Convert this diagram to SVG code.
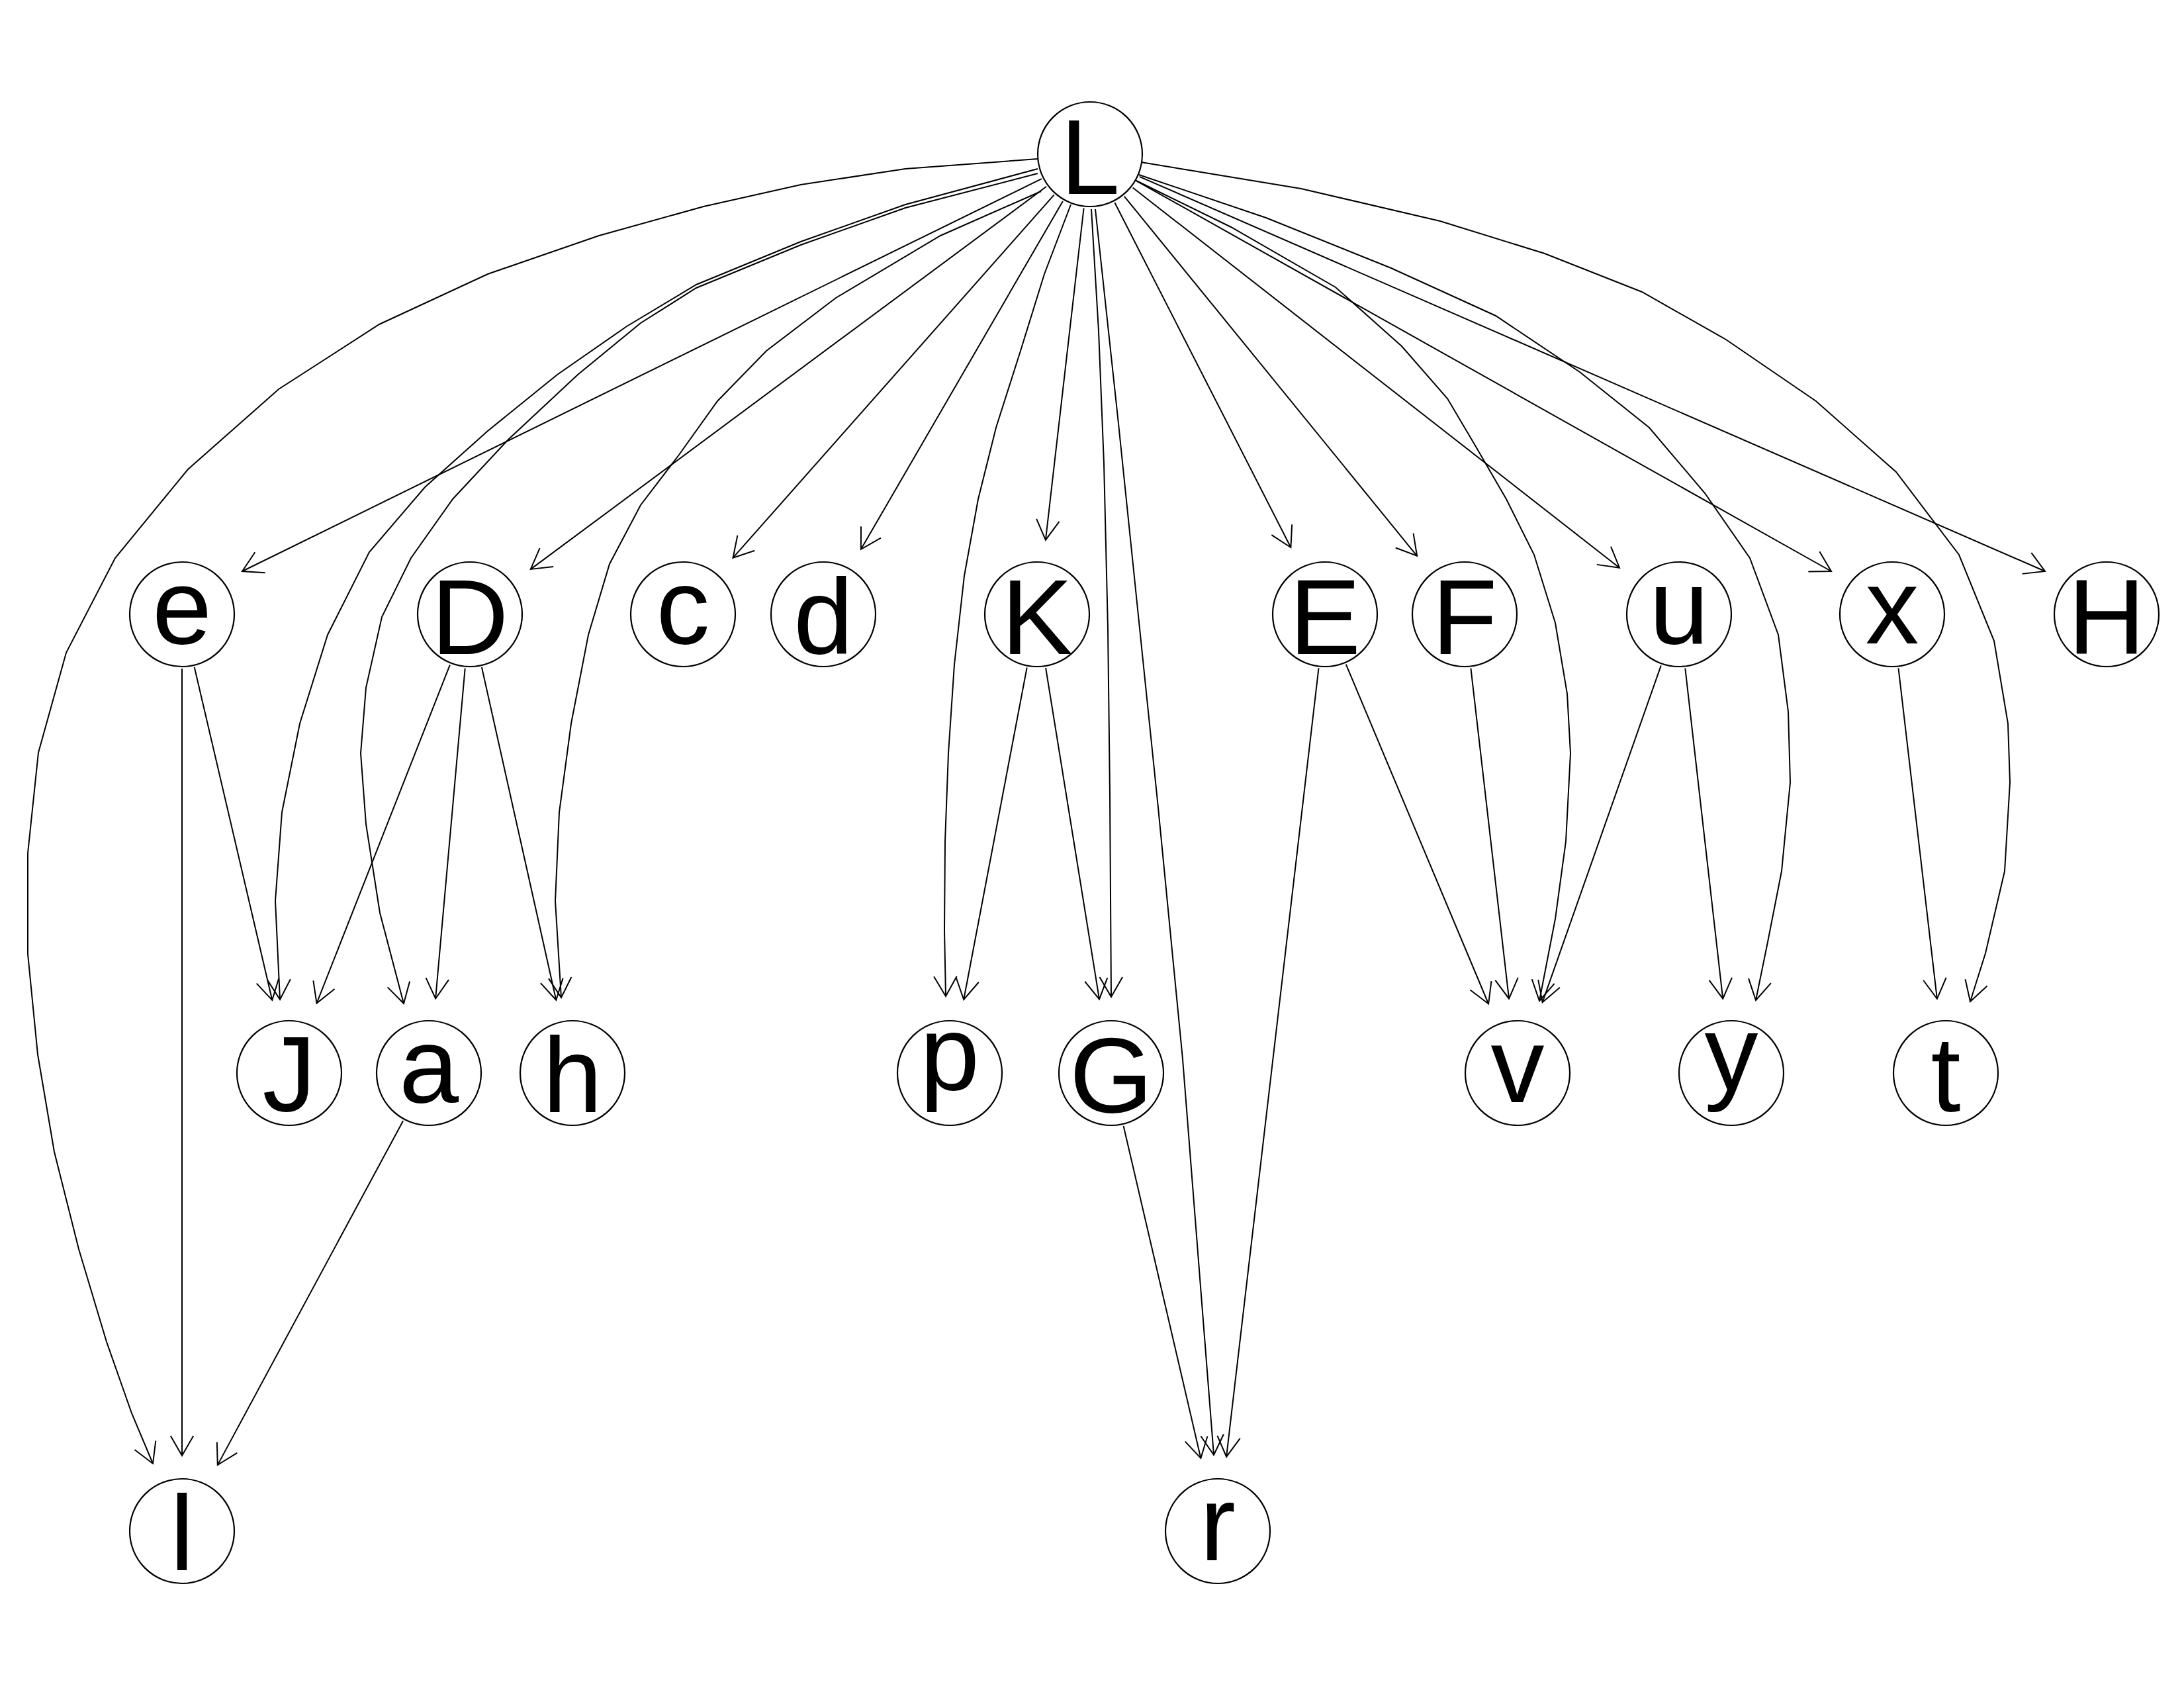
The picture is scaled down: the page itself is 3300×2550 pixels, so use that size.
<svg xmlns="http://www.w3.org/2000/svg" width="3300" height="2550" viewBox="0 0 3300 2550">
<defs>
<style>
.edge{fill:none;stroke:#000;stroke-width:2;marker-end:url(#arr)}
.node circle{fill:#fff;stroke:#000;stroke-width:2.2}
.node text{font-family:"Liberation Sans",Arial,sans-serif;font-size:162px;text-anchor:middle;fill:#000}
</style>
<marker id="arr" markerUnits="userSpaceOnUse" markerWidth="80" markerHeight="80" viewBox="-40 -40 80 80" refX="0" refY="0" orient="auto" overflow="visible">
<path d="M-30,-17.3 L0,0 L-30,17.3" fill="none" stroke="#000" stroke-width="2"/>
</marker>
</defs>
<rect width="3300" height="2550" fill="#fff"/>
<g id="edges">
<polyline class="edge" points="1568,240 1368,255 1210,279 1063,312 905,356 737,414 573,490 421,588 284,709 174,843 100,986 58,1137 42,1289 42,1441 57,1593 82,1740 119,1887 161,2027 199,2135 231,2211"/>
<polyline class="edge" points="1568,255 1368,309 1210,365 1052,430 947,493 842,566 737,651 642,736 558,834 495,959 453,1093 426,1227 416,1361 423,1510"/>
<polyline class="edge" points="1568,262 1368,314 1210,370 1052,435 968,488 873,566 768,664 684,754 621,843 577,932 553,1039 545,1138 553,1245 574,1379 610,1516"/>
<polyline class="edge" points="1573,289 1421,356 1263,450 1158,530 1084,606 1026,687 968,763 921,852 889,959 863,1093 845,1227 839,1361 848,1507"/>
<polyline class="edge" points="1618,309 1578,414 1542,530 1505,646 1478,754 1457,870 1442,1004 1433,1138 1428,1271 1427,1405 1429,1505"/>
<polyline class="edge" points="1649,316 1660,500 1668,700 1674,950 1677,1200 1679,1506"/>
<polyline class="edge" points="1655,316 1690,640 1720,930 1750,1220 1787,1600 1834,2198"/>
<polyline class="edge" points="1713,271 1860,343 2018,434 2118,523 2187,602 2229,673 2276,754 2318,838 2350,941 2368,1048 2373,1138 2366,1271 2350,1388 2326,1512"/>
<polyline class="edge" points="1718,263 1913,329 2102,405 2260,477 2387,562 2492,646 2576,745 2644,843 2687,959 2702,1075 2705,1182 2692,1316 2671,1423 2653,1511"/>
<polyline class="edge" points="1724,245 1966,285 2176,334 2334,383 2481,441 2608,513 2744,606 2865,713 2960,838 3013,968 3034,1093 3037,1182 3029,1316 3000,1440 2977,1513"/>
<line class="edge" x1="1573.8" y1="270.1" x2="366" y2="863"/>
<line class="edge" x1="1581.1" y1="281.8" x2="801.8" y2="859.9"/>
<line class="edge" x1="1592.7" y1="294.4" x2="1107.5" y2="842.7"/>
<line class="edge" x1="1605.9" y1="303.9" x2="1300.9" y2="829.8"/>
<line class="edge" x1="1637.6" y1="314.5" x2="1579.9" y2="815.7"/>
<line class="edge" x1="1684.3" y1="306" x2="1950.4" y2="827"/>
<line class="edge" x1="1698.8" y1="296.6" x2="2141.1" y2="839.8"/>
<line class="edge" x1="1711.6" y1="283.5" x2="2447" y2="857.7"/>
<line class="edge" x1="1718.1" y1="273.8" x2="2767" y2="863"/>
<line class="edge" x1="1721.7" y1="266.8" x2="3090" y2="863"/>
<line class="edge" x1="293.7" y1="1007.8" x2="411.3" y2="1510.9"/>
<line class="edge" x1="275" y1="1010" x2="275" y2="2199"/>
<line class="edge" x1="679.9" y1="1004.3" x2="478.5" y2="1515.6"/>
<line class="edge" x1="702.7" y1="1009.7" x2="658.1" y2="1508.5"/>
<line class="edge" x1="727.9" y1="1008" x2="840.3" y2="1510.7"/>
<line class="edge" x1="609.1" y1="1693.2" x2="328.8" y2="2213.1"/>
<line class="edge" x1="1551.7" y1="1008.5" x2="1456.2" y2="1510"/>
<line class="edge" x1="1580.1" y1="1009" x2="1661" y2="1509.4"/>
<line class="edge" x1="1697.6" y1="1700.9" x2="1814.4" y2="2202.9"/>
<line class="edge" x1="1992.5" y1="1009.4" x2="1853.1" y2="2200.7"/>
<line class="edge" x1="2033.8" y1="1003.6" x2="2249.1" y2="1516.5"/>
<line class="edge" x1="2222.4" y1="1009.5" x2="2280" y2="1508.7"/>
<line class="edge" x1="2509.8" y1="1005.3" x2="2330.6" y2="1514.2"/>
<line class="edge" x1="2546.3" y1="1009.5" x2="2603.2" y2="1508.7"/>
<line class="edge" x1="2868.5" y1="1009.4" x2="2926.9" y2="1508.8"/>
</g>
<g id="node-L" class="node"><circle cx="1647" cy="233" r="79"/><text x="1647" y="293">L</text></g>
<g id="node-e" class="node"><circle cx="275" cy="928" r="79"/><text x="275" y="972">e</text></g>
<g id="node-D" class="node"><circle cx="710" cy="928" r="79"/><text x="710" y="988">D</text></g>
<g id="node-c" class="node"><circle cx="1032" cy="928" r="79"/><text x="1032" y="972">c</text></g>
<g id="node-d" class="node"><circle cx="1244" cy="928" r="79"/><text x="1244" y="987">d</text></g>
<g id="node-K" class="node"><circle cx="1567" cy="928" r="79"/><text x="1567" y="988">K</text></g>
<g id="node-E" class="node"><circle cx="2002" cy="928" r="79"/><text x="2002" y="988">E</text></g>
<g id="node-F" class="node"><circle cx="2213" cy="928" r="79"/><text x="2213" y="988">F</text></g>
<g id="node-u" class="node"><circle cx="2537" cy="928" r="79"/><text x="2537" y="972">u</text></g>
<g id="node-x" class="node"><circle cx="2859" cy="928" r="79"/><text x="2859" y="972">x</text></g>
<g id="node-H" class="node"><circle cx="3183" cy="928" r="79"/><text x="3183" y="988">H</text></g>
<g id="node-J" class="node"><circle cx="437" cy="1621" r="79"/><text x="437" y="1678">J</text></g>
<g id="node-a" class="node"><circle cx="648" cy="1621" r="79"/><text x="648" y="1665">a</text></g>
<g id="node-h" class="node"><circle cx="865" cy="1621" r="79"/><text x="865" y="1680">h</text></g>
<g id="node-p" class="node"><circle cx="1435" cy="1621" r="79"/><text x="1435" y="1646">p</text></g>
<g id="node-G" class="node"><circle cx="1679" cy="1621" r="79"/><text x="1679" y="1680">G</text></g>
<g id="node-v" class="node"><circle cx="2293" cy="1621" r="79"/><text x="2293" y="1665">v</text></g>
<g id="node-y" class="node"><circle cx="2616" cy="1621" r="79"/><text x="2616" y="1646">y</text></g>
<g id="node-t" class="node"><circle cx="2940" cy="1621" r="79"/><text x="2940" y="1679">t</text></g>
<g id="node-l" class="node"><circle cx="275" cy="2313" r="79"/><text x="275" y="2372">l</text></g>
<g id="node-r" class="node"><circle cx="1840" cy="2313" r="79"/><text x="1840" y="2357">r</text></g>
</svg>
